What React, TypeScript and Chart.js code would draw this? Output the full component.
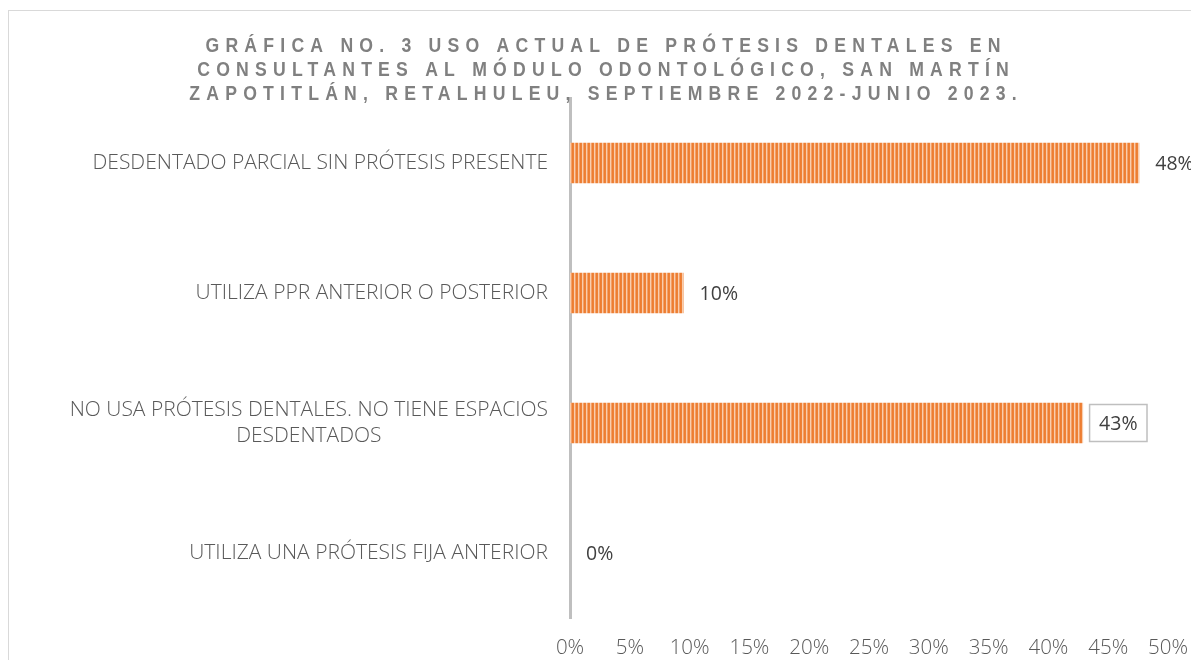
import React, { useEffect, useRef } from "react";
import { Chart, registerables } from "chart.js";
Chart.register(...registerables);

const titleLines = [
  "GRÁFICA NO. 3 USO ACTUAL DE PRÓTESIS DENTALES EN",
  "CONSULTANTES AL MÓDULO ODONTOLÓGICO, SAN MARTÍN",
  "ZAPOTITLÁN, RETALHULEU, SEPTIEMBRE 2022-JUNIO 2023.",
];
const categories: string[][] = [
  ["DESDENTADO PARCIAL SIN PRÓTESIS PRESENTE"],
  ["UTILIZA PPR ANTERIOR O POSTERIOR"],
  ["NO USA PRÓTESIS DENTALES. NO TIENE ESPACIOS", "DESDENTADOS"],
  ["UTILIZA UNA PRÓTESIS FIJA ANTERIOR"],
];
const values = [0.476, 0.095, 0.429, 0];
const valueLabels = ["48%", "10%", "43%", "0%"];
const boxedLabel = [false, false, true, false];
const axisMin = 0;
const axisMax = 0.5;
const axisStep = 0.05;

const FAMILY = "'Open Sans', 'DejaVu Sans', sans-serif";
const LABEL_FONT = `300 21px ${FAMILY}`;
const VALUE_FONT = `400 19.5px ${FAMILY}`;
const TITLE_FONT = "bold 21px 'Liberation Sans', Arial, sans-serif";
const TITLE_SX = 0.84;
const TITLE_WIDTH = 795;

function makePattern(ctx: CanvasRenderingContext2D) {
  const c = document.createElement("canvas");
  c.width = 4;
  c.height = 1;
  const p = c.getContext("2d")!;
  const cols = ["#ED7D31", "#EE8238", "#F9CDAE", "#F3A067"];
  cols.forEach((col, i) => {
    p.fillStyle = col;
    p.fillRect(i, 0, 1, 1);
  });
  return ctx.createPattern(c, "repeat")!;
}

const decor = {
  id: "decor",
  beforeDraw(chart: any) {
    const ctx = chart.ctx as CanvasRenderingContext2D;
    ctx.save();
    ctx.strokeStyle = "#D9D9D9";
    ctx.lineWidth = 1;
    ctx.strokeRect(8.5, 10.5, 1400, 800);
    ctx.restore();
  },
  afterDraw(chart: any) {
    const ctx = chart.ctx as CanvasRenderingContext2D;
    ctx.save();
    // title
    ctx.save();
    ctx.font = TITLE_FONT;
    ctx.fillStyle = "#808080";
    ctx.textAlign = "left";
    ctx.textBaseline = "middle";
    ctx.scale(TITLE_SX, 1);
    const base = ctx.measureText(titleLines[0]).width;
    const spacing = (TITLE_WIDTH / TITLE_SX - base) / (titleLines[0].length - 1);
    (ctx as any).letterSpacing = `${spacing}px`;
    titleLines.forEach((l, i) => {
      const w = ctx.measureText(l).width - spacing;
      ctx.fillText(l, 603 / TITLE_SX - w / 2, 46 + i * 24);
    });
    (ctx as any).letterSpacing = "0px";
    ctx.restore();

    // category labels
    const y = chart.scales.y;
    ctx.font = LABEL_FONT;
    ctx.fillStyle = "#595959";
    ctx.textAlign = "center";
    ctx.textBaseline = "middle";
    const rightEdge = chart.chartArea.left - 22;
    categories.forEach((lines, i) => {
      const cy = y.getPixelForTick(i);
      const widest = Math.max(...lines.map((l) => ctx.measureText(l).width));
      const cx = rightEdge - widest / 2;
      const lh = 26;
      lines.forEach((l, j) => {
        ctx.fillText(l, cx, cy + (j - (lines.length - 1) / 2) * lh);
      });
    });

    // value labels
    const meta = chart.getDatasetMeta(0);
    ctx.font = VALUE_FONT;
    ctx.textAlign = "left";
    ctx.fillStyle = "#404040";
    meta.data.forEach((bar: any, i: number) => {
      const tx = bar.x + 16;
      const ty = bar.y;
      const w = ctx.measureText(valueLabels[i]).width;
      if (boxedLabel[i]) {
        ctx.strokeStyle = "#BFBFBF";
        ctx.lineWidth = 1.5;
        ctx.strokeRect(tx - 9.5, ty - 18.5, w + 19, 37);
      }
      ctx.fillText(valueLabels[i], tx, ty + 1);
    });
    ctx.restore();
  },
};

export default function App() {
  const ref = useRef<HTMLCanvasElement>(null);
  useEffect(() => {
    document.body.style.overflow = "hidden";
    const canvas = ref.current!;
    const ctx = canvas.getContext("2d")!;
    const pattern = makePattern(ctx);
    const chart = new Chart(canvas, {
      type: "bar",
      data: {
        labels: categories.map((c) => c.join(" ")),
        datasets: [
          {
            data: values,
            backgroundColor: pattern,
            borderWidth: 0,
            categoryPercentage: 1,
            barPercentage: 0.31,
          },
        ],
      },
      options: {
        indexAxis: "y",
        responsive: false,
        animation: false,
        layout: { padding: { top: 98, right: 23, left: 0, bottom: 0 } },
        plugins: {
          legend: { display: false },
          tooltip: { enabled: false },
          title: { display: false },
        },
        scales: {
          y: {
            grid: { display: false },
            border: { display: true, color: "#BFBFBF", width: 3 },
            ticks: { display: false },
            afterFit: (s: any) => {
              s.width = 570;
              s.paddingTop = 0;
              s.paddingBottom = 0;
            },
          },
          x: {
            min: axisMin,
            max: axisMax,
            grid: { display: false, drawTicks: false },
            border: { display: false },
            ticks: {
              stepSize: axisStep,
              padding: 18,
              color: "#595959",
              font: { family: FAMILY, size: 20.5, weight: 300 as any },
              callback: (v: any) => `${Math.round(Number(v) * 100)}%`,
            },
            afterFit: (s: any) => {
              s.height = 42;
              s.paddingLeft = 0;
              s.paddingRight = 0;
            },
          },
        },
      },
      plugins: [decor],
    });
    return () => chart.destroy();
  }, []);
  return (
    <div style={{ position: "absolute", left: 0, top: 0, width: 1191, height: 660 }}>
      <canvas ref={ref} width={1191} height={660} />
    </div>
  );
}
